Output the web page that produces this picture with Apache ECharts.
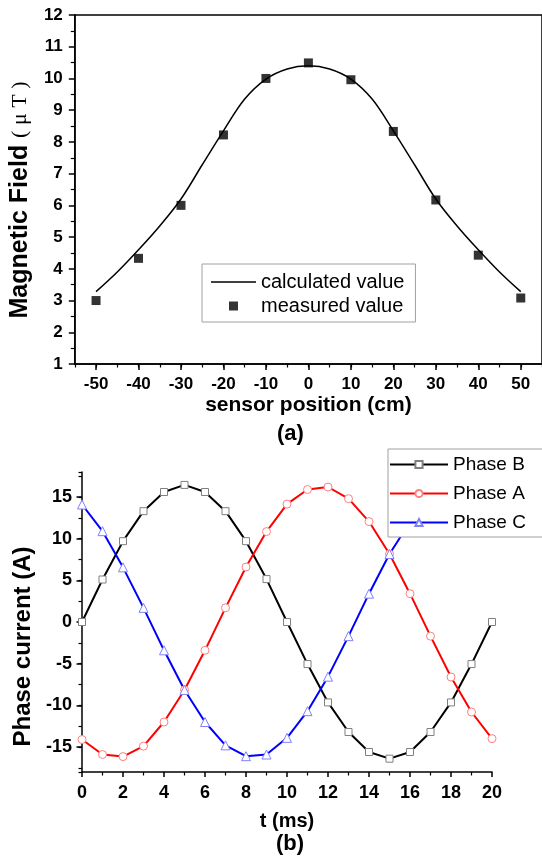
<!DOCTYPE html>
<html><head><meta charset="utf-8">
<script src="https://cdn.jsdelivr.net/npm/echarts@6/dist/echarts.min.js"></script>
<style>html,body{margin:0;padding:0;background:#fff}#c{width:542px;height:856px}</style>
</head><body><div id="c"></div>
<script>
// ---- chart (a) data ----
const sensorPositions = [-50, -40, -30, -20, -10, 0, 10, 20, 30, 40, 50];
const measuredValues = [3.0, 4.33, 6.0, 8.22, 10.0, 10.49, 9.96, 8.33, 6.17, 4.43, 3.08];
const calcPositions = [-50, -45, -40, -35, -30, -25, -20, -15, -10, -5, 0, 5, 10, 15, 20, 25, 30, 35, 40, 45, 50];
const calculatedValues = [3.28, 3.9, 4.6, 5.35, 6.2, 7.28, 8.35, 9.35, 9.98, 10.3, 10.4, 10.3, 9.98, 9.35, 8.35, 7.28, 6.2, 5.35, 4.6, 3.9, 3.28];
const xTicksA = [-50, -40, -30, -20, -10, 0, 10, 20, 30, 40, 50];
const yTicksA = [1, 2, 3, 4, 5, 6, 7, 8, 9, 10, 11, 12];

// ---- chart (b) data ----
const timeMs = [0, 1, 2, 3, 4, 5, 6, 7, 8, 9, 10, 11, 12, 13, 14, 15, 16, 17, 18, 19, 20];
const phaseB = [0, 5.1, 9.7, 13.3, 15.6, 16.45, 15.6, 13.3, 9.7, 5.15, 0, -5.05, -9.65, -13.2, -15.6, -16.4, -15.6, -13.2, -9.65, -5.05, 0];
const phaseA = [-14.1, -15.9, -16.15, -14.9, -12.0, -8.15, -3.4, 1.7, 6.6, 10.85, 14.15, 15.9, 16.2, 14.8, 12.05, 8.15, 3.4, -1.7, -6.6, -10.8, -14.0];
const phaseC = [14.1, 10.9, 6.56, 1.7, -3.4, -8.15, -12.0, -14.8, -16.1, -15.9, -13.9, -10.7, -6.56, -1.7, 3.4, 8.15, 12.0, 14.8, 16.1, 15.9, 13.9];
const xTicksB = [0, 2, 4, 6, 8, 10, 12, 14, 16, 18, 20];
const yTicksB = [-15, -10, -5, 0, 5, 10, 15];

const SANS = 'Liberation Sans, Arial, sans-serif';
const SERIF = 'Liberation Serif, Times New Roman, serif';

const pairs = (xs, ys) => xs.map((x, i) => [x, ys[i]]);
const onlyTicks = (list) => (v) => (list.indexOf(Math.round(v * 1000) / 1000) >= 0 ? String(v) : '');

const axisLineStyle = { color: '#000', width: 1.5 };
const labelStyle = (size) => ({ color: '#000', fontFamily: SANS, fontWeight: 'bold', fontSize: size });

const chart = echarts.init(document.getElementById('c'), null, { renderer: 'canvas' });

chart.setOption({
  animation: false,
  backgroundColor: '#fff',
  grid: [
    { left: 69, top: 15, width: 474, height: 349, show: true, borderColor: '#000', borderWidth: 1.5, backgroundColor: 'transparent' },
    { left: 82, top: 472, width: 410, height: 300 }
  ],
  xAxis: [
    {
      type: 'value', gridIndex: 0, position: 'bottom', min: -55, max: 55, minInterval: 10, maxInterval: 10,
      axisLine: { onZero: false, lineStyle: axisLineStyle },
      axisTick: { show: true, inside: false, length: 6, lineStyle: { color: '#000', width: 1.5 } },
      axisLabel: { ...labelStyle(17), margin: 12, showMinLabel: false, showMaxLabel: false, formatter: onlyTicks(xTicksA) },
      splitLine: { show: false },
      name: 'sensor position (cm)', nameLocation: 'middle', nameGap: 31,
      nameTextStyle: { color: '#000', fontFamily: SANS, fontWeight: 'bold', fontSize: 21 }
    },
    {
      type: 'value', gridIndex: 0, position: 'bottom', min: -55, max: 55, minInterval: 5, maxInterval: 5,
      axisLine: { show: false, onZero: false },
      axisTick: { show: true, length: 3.5, lineStyle: { color: '#000', width: 1.2 } },
      axisLabel: { show: false }, splitLine: { show: false }
    },
    {
      type: 'value', gridIndex: 1, position: 'bottom', min: 0, max: 20, interval: 2,
      axisLine: { onZero: false, lineStyle: axisLineStyle },
      axisTick: { show: true, length: 5, lineStyle: { color: '#000', width: 1.5 } },
      minorTick: { show: true, splitNumber: 2, length: 3.5, lineStyle: { color: '#000', width: 1.2 } },
      axisLabel: { ...labelStyle(18), margin: 12, formatter: onlyTicks(xTicksB) },
      splitLine: { show: false },
      name: 't (ms)', nameLocation: 'middle', nameGap: 39,
      nameTextStyle: { color: '#000', fontFamily: SANS, fontWeight: 'bold', fontSize: 20 }
    }
  ],
  yAxis: [
    {
      type: 'value', gridIndex: 0, position: 'left', min: 1, max: 12, interval: 1,
      axisLine: { onZero: false, lineStyle: axisLineStyle },
      axisTick: { show: true, length: 6, lineStyle: { color: '#000', width: 1.5 } },
      minorTick: { show: true, splitNumber: 2, length: 4, lineStyle: { color: '#000', width: 1.2 } },
      axisLabel: { ...labelStyle(17), margin: 12, formatter: onlyTicks(yTicksA) },
      splitLine: { show: false },
      name: '{b|Magnetic Field }{s|( μ T )}', nameLocation: 'middle', nameGap: 35, nameRotate: 90,
      nameTextStyle: {
        color: '#000', padding: [0, 21, 0, 0],
        rich: {
          b: { fontFamily: SANS, fontWeight: 'bold', fontSize: 25, color: '#000' },
          s: { fontFamily: SERIF, fontSize: 22, color: '#000' }
        }
      }
    },
    {
      type: 'value', gridIndex: 1, position: 'left', min: -18, max: 18, minInterval: 5, maxInterval: 5,
      axisLine: { onZero: false, lineStyle: axisLineStyle },
      axisTick: { show: true, length: 5.5, lineStyle: { color: '#000', width: 1.5 } },
      axisLabel: { ...labelStyle(18), margin: 10, showMinLabel: false, showMaxLabel: false, formatter: onlyTicks(yTicksB) },
      splitLine: { show: false },
      name: 'Phase current (A)', nameLocation: 'middle', nameGap: 40, nameRotate: 90,
      nameTextStyle: { color: '#000', fontFamily: SANS, fontWeight: 'bold', fontSize: 24, padding: [0, 49, 0, 0] }
    },
    {
      type: 'value', gridIndex: 1, position: 'left', min: -18, max: 18, minInterval: 2.5, maxInterval: 2.5,
      axisLine: { show: false, onZero: false },
      axisTick: { show: true, length: 3.5, lineStyle: { color: '#000', width: 1.2 } },
      axisLabel: { show: false }, splitLine: { show: false }
    }
  ],
  legend: [
    {
      data: [
        { name: 'calculated value', icon: 'path://M0,0L45,0L45,1.6L0,1.6Z' },
        { name: 'measured value', icon: 'path://M0,0L10,0L10,10L0,10Z' }
      ],
      orient: 'vertical', left: 202, top: 264, itemWidth: 45, itemHeight: 9, itemGap: 4,
      padding: [8, 11, 6, 9], borderColor: '#a0a0a0', borderWidth: 1, backgroundColor: '#fff',
      textStyle: { color: '#000', fontFamily: SANS, fontSize: 20 }, z: 10
    },
    {
      data: ['Phase B', 'Phase A', 'Phase C'],
      orient: 'vertical', left: 388, top: 449, itemWidth: 58, itemHeight: 9, itemGap: 10,
      padding: [6, 20, 5, 1], borderColor: '#a0a0a0', borderWidth: 1, backgroundColor: '#fff',
      textStyle: { color: '#000', fontFamily: SANS, fontSize: 19 }, z: 10
    }
  ],
  graphic: [
    { type: 'text', left: 277, top: 423, style: { text: '(a)', font: 'bold 22px ' + SANS, fill: '#000' } },
    { type: 'text', left: 276, top: 833, style: { text: '(b)', font: 'bold 22px ' + SANS, fill: '#000' } }
  ],
  series: [
    {
      name: 'calculated value', type: 'line', xAxisIndex: 0, yAxisIndex: 0,
      data: pairs(calcPositions, calculatedValues), smooth: 0.35, symbol: 'none',
      lineStyle: { color: '#000', width: 1.5 }, itemStyle: { color: '#000' }, z: 2
    },
    {
      name: 'measured value', type: 'scatter', xAxisIndex: 0, yAxisIndex: 0,
      data: pairs(sensorPositions, measuredValues), symbol: 'rect', symbolSize: 9,
      itemStyle: { color: '#000' }, z: 3
    },
    {
      name: 'Phase B', type: 'line', xAxisIndex: 2, yAxisIndex: 1,
      data: pairs(timeMs, phaseB), symbol: 'rect', symbolSize: 7, showAllSymbol: true,
      lineStyle: { color: '#000', width: 2 }, itemStyle: { color: '#fff', borderColor: '#808080', borderWidth: 1 }, z: 2
    },
    {
      name: 'Phase A', type: 'line', xAxisIndex: 2, yAxisIndex: 1,
      data: pairs(timeMs, phaseA), symbol: 'circle', symbolSize: 8, showAllSymbol: true,
      lineStyle: { color: '#ff0000', width: 2 }, itemStyle: { color: '#fff', borderColor: '#ff8080', borderWidth: 1 }, z: 2
    },
    {
      name: 'Phase C', type: 'line', xAxisIndex: 2, yAxisIndex: 1,
      data: pairs(timeMs, phaseC), symbol: 'triangle', symbolSize: 9, showAllSymbol: true,
      lineStyle: { color: '#0000ff', width: 2 }, itemStyle: { color: '#fff', borderColor: '#8080ff', borderWidth: 1 }, z: 2
    }
  ]
});
</script>
</body></html>
